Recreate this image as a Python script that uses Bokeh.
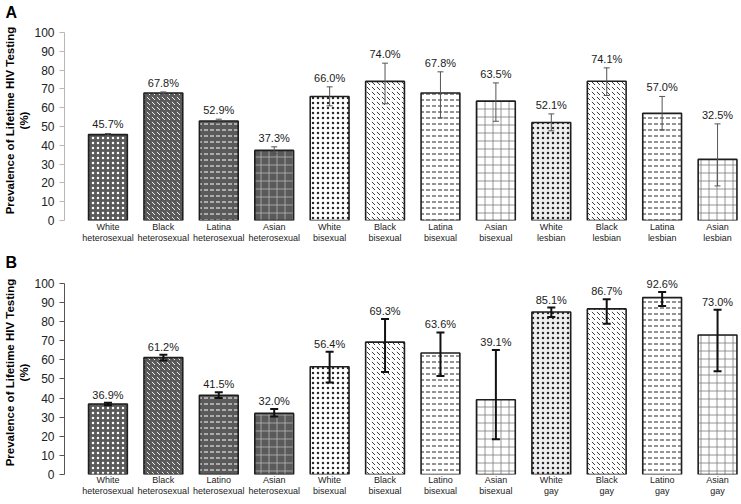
import numpy as np
from bokeh.plotting import figure
from bokeh.models import (ColumnDataSource, Whisker, TeeHead, FixedTicker,
                          LinearAxis, Title)
from bokeh.core.properties import value
from bokeh.layouts import column
from bokeh.embed import file_html
from bokeh.resources import INLINE

# ---------------- data ----------------
labels_a = ["White heterosexual", "Black heterosexual", "Latina heterosexual", "Asian heterosexual",
            "White bisexual", "Black bisexual", "Latina bisexual", "Asian bisexual",
            "White lesbian", "Black lesbian", "Latina lesbian", "Asian lesbian"]
values_a = [45.7, 67.8, 52.9, 37.3, 66.0, 74.0, 67.8, 63.5, 52.1, 74.1, 57.0, 32.5]
lower_a = [45.1, 67.2, 51.9, 35.6, 61.0, 62.1, 54.6, 52.8, 47.7, 66.5, 48.2, 18.4]
upper_a = [46.3, 68.4, 53.9, 39.2, 71.1, 83.7, 79.1, 73.2, 56.7, 81.2, 66.0, 51.4]

labels_b = ["White heterosexual", "Black heterosexual", "Latino heterosexual", "Asian heterosexual",
            "White bisexual", "Black bisexual", "Latino bisexual", "Asian bisexual",
            "White gay", "Black gay", "Latino gay", "Asian gay"]
values_b = [36.9, 61.2, 41.5, 32.0, 56.4, 69.3, 63.6, 39.1, 85.1, 86.7, 92.6, 73.0]
lower_b = [36.2, 59.7, 40.0, 30.3, 48.2, 53.7, 51.6, 18.4, 82.5, 78.9, 88.2, 54.0]
upper_b = [37.6, 62.7, 43.0, 34.3, 64.2, 81.4, 74.4, 65.2, 87.4, 91.8, 95.6, 86.2]

y_ticks = list(range(0, 101, 10))
y_title = ["Prevalence of Lifetime HIV Testing", "(%)"]

# ---------------- styles ----------------
PATTERN = {"White": "dot", "Black": "left_diagonal_dash", "Latina": "horizontal_dash",
           "Latino": "horizontal_dash", "Asian": "cross"}
SCALE = {"White": 5, "Black": 5, "Latina": 6, "Latino": 6, "Asian": 8}
WEIGHT = {"White": 0.35, "Black": 0.9, "Latina": 1.0, "Latino": 1.0, "Asian": 0.8}

FONT = "Liberation Sans"
W = 741
LEFT = 61
X0, X1 = -0.784, 11.432


def bar_style(label):
    race, group = label.split(" ", 1)
    if group == "heterosexual":
        fill = "#5a5a5a"
        hcol = "#b5b5b5" if race == "Asian" else "#ffffff"
    elif group == "bisexual":
        fill = "#ffffff"
        hcol = "#7a7a7a" if race == "Asian" else "#2a2a2a"
    else:
        fill = "#eeeeee" if race == "White" else "#ffffff"
        hcol = "#7a7a7a" if race == "Asian" else "#2a2a2a"
    return fill, PATTERN[race], hcol, SCALE[race], WEIGHT[race]


def make_panel(letter, labels, values, lower, upper, height, top, bottom, ymax,
               err_color, err_width, cap, axis_color, label_offset, x_standoff):
    x = list(range(len(labels)))
    styles = [bar_style(l) for l in labels]
    src = ColumnDataSource(dict(
        x=x, v=values, lo=lower, up=upper,
        txt=[f"{v:.1f}%" for v in values],
        fill=[s[0] for s in styles], hatch=[s[1] for s in styles],
        hcol=[s[2] for s in styles], hscale=[s[3] for s in styles],
        hweight=[s[4] for s in styles],
    ))
    p = figure(width=W, height=height, x_range=(X0, X1), y_range=(0, ymax),
               output_backend="svg", toolbar_location=None, title=None,
               min_border_left=LEFT, min_border_right=0,
               min_border_top=top, min_border_bottom=bottom)
    p.outline_line_color = None
    p.grid.visible = False
    p.background_fill_color = "white"

    p.add_layout(Title(text=letter, align="left", offset=-59, standoff=0,
                       text_font=FONT, text_font_style="bold", text_font_size="16px",
                       text_color="#000000"), "above")

    p.vbar(x="x", top="v", bottom=0, width=0.7, source=src,
           fill_color="fill", hatch_pattern="hatch", hatch_color="hcol",
           hatch_scale="hscale", hatch_weight="hweight",
           line_color="#1e1e1e", line_width=1.6)

    w = Whisker(source=src, base="x", upper="up", lower="lo",
                line_color=err_color, line_width=err_width, level="overlay",
                upper_head=TeeHead(size=cap, line_color=err_color, line_width=err_width),
                lower_head=TeeHead(size=cap, line_color=err_color, line_width=err_width))
    p.add_layout(w)

    p.text(x="x", y="up", text="txt", source=src, text_align="center",
           text_baseline="bottom", y_offset=-label_offset, text_font=value(FONT),
           text_font_size=value("11px"), text_color="#1a1a1a")

    # x axis
    p.xaxis.ticker = FixedTicker(ticks=x)
    p.xaxis.major_label_overrides = {i: l.replace(" ", "\n") for i, l in zip(x, labels)}
    p.xaxis.axis_line_color = None
    p.xaxis.major_tick_line_color = None
    p.xaxis.minor_tick_line_color = None
    p.xaxis.major_tick_out = 0
    p.xaxis.major_tick_in = 0
    p.xaxis.major_label_standoff = x_standoff
    p.xaxis.major_label_text_font = FONT
    p.xaxis.major_label_text_font_size = "9px"
    p.xaxis.major_label_text_line_height = 1.1
    p.xaxis.major_label_text_color = "#222222"

    # y axis
    ya = p.yaxis[0]
    ya.ticker = FixedTicker(ticks=y_ticks)
    ya.bounds = (0, 100)
    ya.axis_line_color = axis_color
    ya.major_tick_line_color = axis_color
    ya.minor_tick_line_color = None
    ya.major_tick_out = 5
    ya.major_tick_in = 0
    ya.major_label_standoff = 5
    ya.major_label_text_font = FONT
    ya.major_label_text_font_size = "12px"
    ya.major_label_text_color = "#222222"
    ya.axis_label = y_title[1]
    ya.axis_label_standoff = 1
    ya.axis_label_text_font = FONT
    ya.axis_label_text_font_style = "bold"
    ya.axis_label_text_font_size = "11.5px"
    ya.axis_label_text_color = "#000000"

    outer = LinearAxis(ticker=FixedTicker(ticks=[]), bounds=(0, 100),
                       axis_line_color=None, major_tick_line_color=None,
                       minor_tick_line_color=None, major_tick_out=0, minor_tick_out=0,
                       major_label_standoff=0,
                       axis_label=y_title[0], axis_label_standoff=0,
                       axis_label_text_font=FONT, axis_label_text_font_style="bold",
                       axis_label_text_font_size="11.5px", axis_label_text_color="#000000")
    p.add_layout(outer, "left")
    return p


pa = make_panel("A", labels_a, values_a, lower_a, upper_a, 250, 20, 30, 106.4,
                "#555555", 1, 6, "#b8b8b8", 3, 1)
pb = make_panel("B", labels_b, values_b, lower_b, upper_b, 254, 20, 30, 106.8,
                "#111111", 2, 8, "#555555", 2, 0)

layout = column(pa, pb, spacing=0)
open("out.html", "w").write(file_html(layout, INLINE))
